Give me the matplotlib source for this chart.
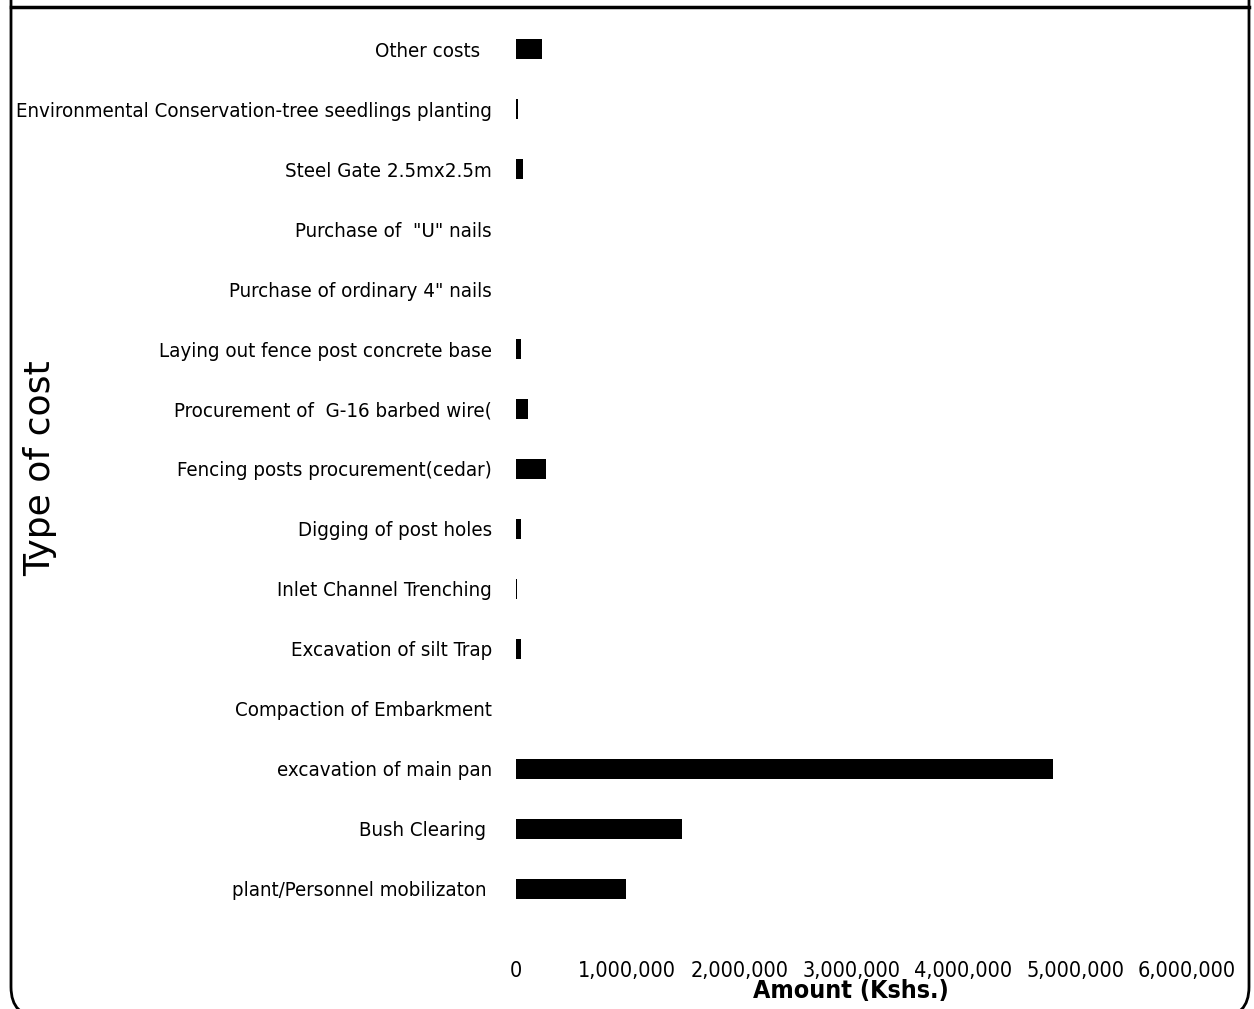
import matplotlib
matplotlib.use('Agg')
import matplotlib.pyplot as plt
from matplotlib.patches import FancyBboxPatch
from matplotlib.lines import Line2D
from matplotlib.transforms import IdentityTransform
from matplotlib.ticker import FuncFormatter
import numpy as np

# cost items, bottom to top as drawn
categories = [
    'plant/Personnel mobilizaton ',
    'Bush Clearing ',
    'excavation of main pan',
    'Compaction of Embarkment',
    'Excavation of silt Trap',
    'Inlet Channel Trenching',
    'Digging of post holes',
    'Fencing posts procurement(cedar)',
    'Procurement of  G-16 barbed wire(',
    'Laying out fence post concrete base',
    'Purchase of ordinary 4" nails',
    'Purchase of  "U" nails',
    'Steel Gate 2.5mx2.5m',
    'Environmental Conservation-tree seedlings planting',
    'Other costs  ',
]
amounts = [990000, 1490000, 4800000, 0, 45000, 10000, 53000, 273000,
           113000, 53000, 0, 0, 71000, 18000, 237000]
xticks = [0, 1000000, 2000000, 3000000, 4000000, 5000000, 6000000]

fig = plt.figure(figsize=(12.54, 10.09), dpi=100)
W, H = 1254, 1009
ax = fig.add_axes([515.5 / W, (H - 919) / H, 671.5 / W, 900 / H])

y = np.arange(len(categories))
ax.barh(y, amounts, height=0.33, color='black')
ax.set_xlim(0, 6000000)
ax.set_ylim(-0.5, len(categories) - 0.5)

ax.set_yticks(y)
ax.set_yticklabels(categories, family='DejaVu Sans', stretch='condensed', fontsize=14.7)
ax.set_xticks(xticks)
ax.xaxis.set_major_formatter(FuncFormatter(lambda v, p: '{:,.0f}'.format(v)))
for lab in ax.get_xticklabels():
    lab.set_family('DejaVu Sans')
    lab.set_stretch('condensed')
    lab.set_fontsize(15.5)
ax.tick_params(axis='y', length=0, pad=17)
ax.tick_params(axis='x', length=0, pad=30)
for s in ax.spines.values():
    s.set_visible(False)

fig.text(40 / W, 1 - 468 / H, 'Type of cost', rotation=90, ha='center', va='center',
         family='DejaVu Sans', fontsize=26)
fig.text(851 / W, 1 - 991 / H, 'Amount (Kshs.)', ha='center', va='center',
         family='DejaVu Sans', stretch='condensed', fontsize=18, fontweight='bold')

# frame of the original chart area: square top, rounded bottom corners
frame = FancyBboxPatch((11, -8), 1238, 1300, boxstyle='round,pad=0,rounding_size=30',
                       transform=IdentityTransform(), fill=False, edgecolor='black',
                       linewidth=2)
fig.patches.append(frame)
fig.lines.append(Line2D([11, 1249], [H - 7, H - 7], transform=IdentityTransform(),
                        color='black', linewidth=2.5, solid_capstyle='projecting'))

fig.savefig('out.png', dpi=100)
